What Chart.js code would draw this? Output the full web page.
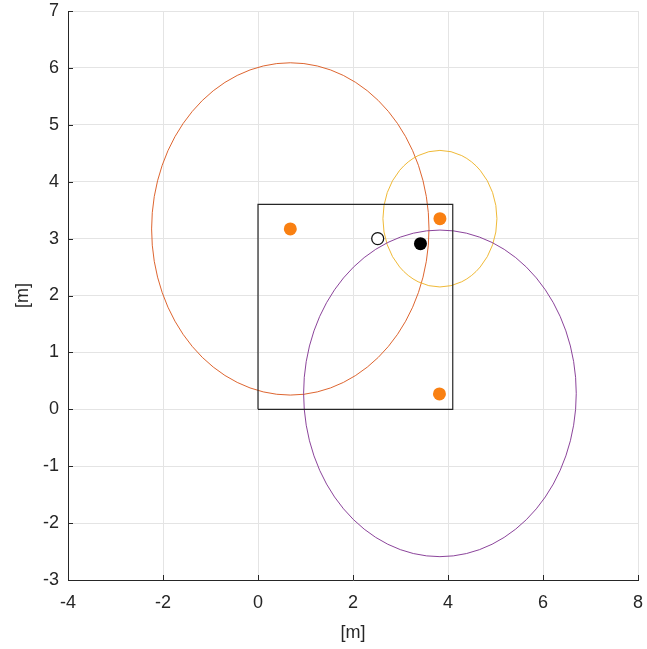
<!DOCTYPE html>
<html>
<head>
<meta charset="utf-8">
<script src="https://cdn.jsdelivr.net/npm/chart.js@4/dist/chart.umd.min.js"></script>
<style>
  html, body { margin: 0; padding: 0; background: #fff; }
  #wrap { width: 647px; height: 649px; }
</style>
</head>
<body>
<div id="wrap"><canvas id="plot"></canvas></div>
<script>
// Room outline (corners, closed)
const roomX = [0, 0, 4.1, 4.1, 0];
const roomY = [0, 3.6, 3.6, 0, 0];

// Anchors (orange dots)
const anchorX = [0.68, 3.83, 3.82];
const anchorY = [3.17, 3.35, 0.27];

// Range circles around each anchor
const circleX = [0.68, 3.83, 3.83];
const circleY = [3.17, 3.35, 0.28];
const circleR = [2.92, 1.2, 2.87];
const circleColors = ['#d95319', '#edb120', '#7e2f8e'];

// True position (open) and estimate (filled)
const trueX = [2.52];
const trueY = [3.0];
const estX = [3.42];
const estY = [2.91];

const xTicks = [-4, -2, 0, 2, 4, 6, 8];
const yTicks = [-3, -2, -1, 0, 1, 2, 3, 4, 5, 6, 7];

const zip = (xs, ys) => xs.map((x, i) => ({ x: x, y: ys[i] }));

const FONT = { family: 'Liberation Sans, Arial, sans-serif', size: 18 };
const INK = '#262626';

// range circles are drawn as ellipses in pixel space via the chart scales
const circlesPlugin = {
  id: 'rangeCircles',
  beforeDatasetsDraw(chart) {
    const { ctx, scales: { x, y }, chartArea } = chart;
    ctx.save();
    ctx.beginPath();
    ctx.rect(chartArea.left, chartArea.top, chartArea.right - chartArea.left, chartArea.bottom - chartArea.top);
    ctx.clip();
    circleX.forEach((cx, i) => {
      const px = x.getPixelForValue(cx);
      const py = y.getPixelForValue(circleY[i]);
      const rx = Math.abs(x.getPixelForValue(cx + circleR[i]) - px);
      const ry = Math.abs(y.getPixelForValue(circleY[i] + circleR[i]) - py);
      ctx.beginPath();
      ctx.ellipse(px, py, rx, ry, 0, 0, Math.PI * 2);
      ctx.strokeStyle = circleColors[i];
      ctx.lineWidth = 0.9;
      ctx.stroke();
    });
    ctx.restore();
  }
};

// inward tick marks on the left and bottom axes
const innerTicks = {
  id: 'innerTicks',
  afterDraw(chart) {
    const { ctx, scales: { x, y }, chartArea } = chart;
    const len = 5;
    ctx.save();
    ctx.strokeStyle = INK;
    ctx.lineWidth = 1;
    ctx.beginPath();
    x.ticks.forEach(t => {
      const px = Math.round(x.getPixelForValue(t.value)) + 0.5;
      ctx.moveTo(px, chartArea.bottom);
      ctx.lineTo(px, chartArea.bottom - len);
    });
    y.ticks.forEach(t => {
      const py = Math.round(y.getPixelForValue(t.value)) + 0.5;
      ctx.moveTo(chartArea.left, py);
      ctx.lineTo(chartArea.left + len, py);
    });
    ctx.stroke();
    ctx.restore();
  }
};

new Chart(document.getElementById('plot'), {
  type: 'scatter',
  data: {
    datasets: [
      {
        label: 'room',
        data: zip(roomX, roomY),
        showLine: true,
        borderColor: INK,
        borderWidth: 1.2,
        pointRadius: 0,
        fill: false,
        order: 3
      },
      {
        label: 'anchors',
        data: zip(anchorX, anchorY),
        pointRadius: 6.5,
        pointBackgroundColor: '#f98012',
        pointBorderColor: '#f98012',
        pointBorderWidth: 0,
        order: 2
      },
      {
        label: 'true',
        data: zip(trueX, trueY),
        pointRadius: 6,
        pointBackgroundColor: '#ffffff',
        pointBorderColor: '#111111',
        pointBorderWidth: 1.3,
        order: 1
      },
      {
        label: 'estimate',
        data: zip(estX, estY),
        pointRadius: 6.5,
        pointBackgroundColor: '#000000',
        pointBorderColor: '#000000',
        pointBorderWidth: 0,
        order: 0
      }
    ]
  },
  options: {
    responsive: true,
    maintainAspectRatio: false,
    animation: false,
    layout: { padding: { top: 11, right: 9, left: 0, bottom: 0 } },
    plugins: {
      legend: { display: false },
      tooltip: { enabled: false }
    },
    scales: {
      x: {
        type: 'linear',
        min: -4,
        max: 8,
        afterBuildTicks: s => { s.ticks = xTicks.map(v => ({ value: v })); },
        afterFit: s => { s.height = 69; s.paddingLeft = 0; s.paddingRight = 0; },
        grid: { color: '#e4e4e4', lineWidth: 1, drawTicks: false },
        border: { display: true, color: INK, width: 1 },
        ticks: { color: INK, font: FONT, padding: 12, maxRotation: 0 },
        title: { display: true, text: '[m]', color: INK, font: FONT, padding: { top: 0, bottom: 5 } }
      },
      y: {
        type: 'linear',
        min: -3,
        max: 7,
        afterBuildTicks: s => { s.ticks = yTicks.map(v => ({ value: v })); },
        afterFit: s => { s.width = 68; s.paddingTop = 0; s.paddingBottom = 0; },
        grid: { color: '#e4e4e4', lineWidth: 1, drawTicks: false },
        border: { display: true, color: INK, width: 1 },
        ticks: { color: INK, font: FONT, padding: 9 },
        title: { display: true, text: '[m]', color: INK, font: FONT, padding: { top: 12, bottom: 0 } }
      }
    }
  },
  plugins: [circlesPlugin, innerTicks]
});
</script>
</body>
</html>
